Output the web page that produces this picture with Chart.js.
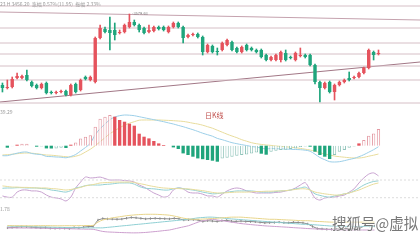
<!DOCTYPE html>
<html>
<head>
<meta charset="utf-8">
<script src="https://cdn.jsdelivr.net/npm/chart.js@4.4.0/dist/chart.umd.min.js"></script>
<style>
  body { margin: 0; background: #fff; width: 420px; height: 240px; overflow: hidden; position: relative;
         font-family: "Noto Sans CJK SC", "DejaVu Sans", sans-serif; }
  .pane { position: absolute; left: 0; width: 420px; }
  .txt { position: absolute; white-space: nowrap; line-height: 1; color: #9a9a9a; }
</style>
</head>
<body>
<div class="pane" style="top:0;height:108px"><canvas id="kline" width="420" height="108"></canvas></div>
<div class="pane" style="top:108px;height:62px"><canvas id="macd" width="420" height="62"></canvas></div>
<div class="pane" style="top:170px;height:35px"><canvas id="kdj" width="420" height="35"></canvas></div>
<div class="pane" style="top:205px;height:35px"><canvas id="band" width="420" height="35"></canvas></div>

<div class="txt" style="left:0;top:1px;font-size:5px">23 H 3456.20 &nbsp;涨幅 0.57%(11.95) &nbsp;振幅 2.33%</div>
<div class="txt" style="left:132px;top:11px;font-size:4px;color:#777">-3579.63</div>
<div class="txt" style="left:205px;top:112px;font-size:7px;color:#c0504d">日K线</div>
<div class="txt" style="left:0;top:109px;font-size:5px">39.29</div>
<div class="txt" style="left:0;top:206px;font-size:5px">1.78</div>
<div class="txt" style="left:332px;top:216px;font-size:14.5px;color:#777;text-shadow:0 0 2px #fff,0 0 2px #fff">搜狐号@虚拟</div>

<script>
// daily candles, oldest first
const slots = 86; // width of the axis in candle slots (empty room on the right)
const opens  = [3359,3350,3353,3380,3380,3389,3368,3359,3350,3365,3338,3335,3338,3341,3329,3362,3344,3383,3374,3368,3500,3527,3524,3524,3515,3518,3533,3548,3539,3530,3518,3521,3533,3533,3518,3533,3545,3533,3503,3509,3512,3503,3458,3476,3461,3464,3479,3488,3470,3458,3479,3470,3464,3464,3449,3434,3434,3434,3455,3443,3434,3446,3449,3449,3419,3368,3350,3368,3338,3359,3368,3380,3380,3383,3395,3410,3458,3452];
const closes = [3350,3353,3377,3386,3386,3374,3356,3350,3362,3335,3335,3338,3341,3329,3359,3338,3374,3377,3383,3500,3530,3518,3515,3509,3518,3539,3548,3539,3524,3515,3524,3533,3527,3524,3533,3545,3533,3500,3509,3512,3503,3458,3479,3458,3458,3485,3494,3464,3458,3473,3464,3464,3458,3443,3434,3443,3449,3458,3434,3440,3455,3449,3443,3419,3368,3350,3365,3338,3359,3368,3374,3374,3383,3395,3410,3464,3449,3455];
const highs  = [3365,3374,3383,3395,3389,3404,3371,3362,3365,3368,3341,3341,3344,3344,3362,3365,3377,3386,3386,3503,3539,3533,3563,3545,3524,3542,3572,3554,3542,3533,3539,3536,3536,3536,3536,3548,3548,3536,3512,3515,3515,3506,3482,3479,3470,3488,3497,3491,3473,3476,3482,3473,3467,3467,3452,3446,3452,3461,3464,3446,3458,3470,3452,3452,3422,3371,3368,3371,3362,3371,3377,3398,3386,3398,3413,3467,3461,3464];
const lows   = [3338,3347,3350,3377,3377,3371,3353,3347,3347,3332,3332,3332,3335,3326,3326,3335,3341,3374,3371,3365,3497,3515,3464,3494,3512,3515,3530,3536,3518,3512,3515,3518,3524,3521,3515,3530,3530,3485,3500,3506,3500,3449,3455,3455,3449,3461,3476,3461,3455,3455,3461,3461,3455,3440,3431,3431,3431,3428,3431,3437,3431,3443,3440,3416,3362,3308,3347,3335,3314,3356,3365,3371,3377,3380,3392,3407,3434,3449];

// drawn support / resistance levels and the two trend lines (start, end)
const levels = [3596, 3530, 3485, 3452, 3416, 3374, 3305];
const trendDown = [3578, 3554];
const trendUp = [3308, 3428];

// MACD
const macdHist = [-1.5,-2,-0.5,1,2,2,-0.7,-1,-0.7,-2.7,-2.8,-2.7,-2,-2.3,1,3.3,7.3,9,10.5,19,27,29,30.7,29,25.7,24,22,20,12,9,7.3,4.7,2.3,0.7,-1.5,-1.7,-3.3,-7.7,-9.3,-11,-12.7,-13.5,-14.3,-15,-16,-12.7,-12,-11,-10,-9.3,-8.7,-7.7,-6.7,-8,-9,-6,-5,-4.3,-4,-3.3,-2.7,-1.3,-0.7,-1,-6,-9.3,-11,-13.3,-9.3,-6,-4.3,-2,-0.7,2.3,5.7,10,12.3,16.7];
const dif = [-10,-10,-8.7,-7.5,-6.5,-6.3,-7.8,-8.5,-9,-10.7,-10.9,-11.3,-11.5,-12.1,-10.8,-8.8,-5.3,-1.8,2.5,11,17,21.7,26,28.7,30,30.7,30.5,30,29,28,27,26,25,24,22.8,21.7,20.3,19,17.5,16,14.3,12.5,11,9.5,7.3,6,4.5,3,2,1,0.2,-0.8,-1.4,-2.4,-3.2,-2.8,-3,-3.2,-3.4,-3.6,-3.8,-4,-4.5,-5.5,-8.5,-11.8,-14,-16,-16.3,-16,-15,-13.8,-12.7,-11,-9,-6.5,-4,-1];
const dea = [-9.3,-9,-8.5,-8,-7.5,-7.3,-7.5,-8,-8.7,-9.3,-9.5,-10,-10.5,-11,-11.3,-10.5,-9,-6.3,-3.5,0,4,8,12,15,18,20.5,22.5,24,25.5,25.7,25.7,25.7,25.7,25.5,25.3,25,24.7,24.3,23.5,22.5,21.7,20.5,19,17.5,15.5,13.5,11.5,9.7,8,6,4.5,3,2,1.3,0.7,0.3,-0.3,-0.7,-1.1,-1.5,-2,-2.7,-3.5,-4.3,-5.5,-7,-8.3,-9.3,-10.3,-11,-11.5,-12,-12.3,-12.3,-11.7,-10.5,-9.5,-8.3];

// KDJ
const kLine = [52,53,53,54,54,53,53,53,51,50,46,44,41,39,44,53,56,61,63,63,63,65,66,68,70,70,70,66,58,53,51,50,48,46,46,50,53,51,48,46,43,39,36,33,34,36,39,41,43,43,43,43,41,39,39,39,41,43,44,46,50,53,56,46,33,28,24,22,26,29,33,36,43,53,63,70,75,77];
const dLine = [60,58,56,56,55,55,54,53,53,53,51,50,48,46,48,51,55,60,63,66,70,71,72,73,73,73,73,72,68,65,61,58,55,53,52,51,51,50,50,48,46,44,41,38,36,36,37,38,39,39,39,40,41,41,42,42,43,43,44,46,48,50,50,46,39,36,33,31,29,29,33,36,41,46,53,60,66,70];
const jLine = [26,22,22,39,46,46,43,43,39,29,22,19,16,9,22,53,73,90,87,88,90,85,80,80,80,78,77,73,63,56,46,36,29,22,26,46,53,50,39,36,36,32,26,26,22,32,43,50,53,50,43,39,36,36,36,36,38,39,43,46,53,63,71,46,19,12,19,21,22,26,29,39,50,70,87,100,104,94];
const kdjLevels = [20, 80];

// bottom indicator and its bands
const bandUp  = [13.2,13.1,13,13,12.9,12.9,13,13,13.1,13,12.9,12.9,13,13,13,13.1,13.2,13.3,13.5,18,21,22.5,24,25,26,27,27.7,28.3,28.7,29,29,29,28.7,28.3,27.7,26.5,25,23.5,22.5,22,22,22.3,22.7,23,23.5,24,24.5,25,25,25,24.5,24,23.5,23,22.5,22,22,21.7,21.3,21,20.7,20.3,20,20,19.5,19,18.7,18.3,18,18,18,18,18,18,18,18,18,18];
const bandMid = [12.5,12.3,12.2,12,11.8,11.7,11.5,11.3,11.2,11,10.8,10.7,10.5,10.4,10.3,10.2,10.1,10,10,10,10,10.7,11.3,12,12.7,13.3,14,14.7,15.3,16,16.7,17.3,18,18.7,19.3,20,20.7,21.3,22,23,24,24.5,25,25,24.5,24,23,22.5,22,21.5,21,20.5,20,19.5,19,18.5,18,17.5,17,16.5,16,15.5,15,15,14.5,14,13.5,13,12.5,12,12,12,12,12,12,12,12,12];
const bandLow = [10,10,9.9,9.8,9.8,9.7,9.6,9.5,9.4,9.3,9.2,9.1,9,8.8,8.6,8.4,8.3,8.1,8,6.5,5,4.3,4,3.7,3.4,3.2,3,3,3.2,3.6,4.2,4.8,5.5,6.3,7,8.5,10,11.5,13,15.5,18,20,21,22,21,20,19,18,17,16,15.3,14.6,14,13.4,12.8,12.4,12,11.6,11.2,10.8,10.3,9.9,9.5,9,8.7,8.4,8.1,7.8,7.5,7.2,7,7,7,7,7,7,7,7];
const indLine = [10,10.5,11,11.5,11.5,11,10.5,10,10.3,9.5,9.3,9.5,9.5,9,10.5,10,11,11.8,12,21,23,22.5,22.3,22,22.3,23.5,24.5,24,23.3,22.5,23,23.3,23,22.8,22.5,23.3,22.7,21,21.3,21.5,21,19,20,19.5,19,20,20.5,19.3,19,19.5,19,18.8,18.5,17.8,17,17.3,17.5,18,17.2,17,17.8,17.5,17,15.5,12,9,8.5,8,8,8.3,8.8,9,9.2,9.6,10,13,12.5,12.7];

const RED = '#e5535d', GREEN = '#1fa57c';
const xs = opens.map((_, i) => i);
const pts = arr => arr.map((v, i) => ({ x: xs[i], y: v }));
const span = (a, b) => [{ x: -0.5, y: a }, { x: slots - 0.5, y: b }];

function line(data, color, extra) {
  return Object.assign({ type: 'line', data, borderColor: color, borderWidth: 1, pointRadius: 0,
    tension: 0.3, fill: false, order: 3 }, extra || {});
}

function opts(min, max) {
  return {
    responsive: false, animation: false, devicePixelRatio: 1,
    layout: { padding: 0 },
    plugins: { legend: { display: false }, tooltip: { enabled: false } },
    scales: {
      x: { type: 'linear', min: -0.5, max: slots - 0.5, offset: false, display: false },
      y: { min, max, display: false }
    }
  };
}

// candles: wick + body as floating bars
const up = i => closes[i] >= opens[i];
const candleColor = c => up(c.dataIndex) ? RED : GREEN;
const klineSets = levels.map(v => line(span(v, v), '#d6bfc6', { tension: 0 }));
klineSets.push(line(span(trendDown[0], trendDown[1]), '#c5a2ae', { tension: 0 }));
klineSets.push(line(span(trendUp[0], trendUp[1]), '#a27786', { tension: 0 }));
klineSets.push({
  type: 'bar', data: xs.map(i => ({ x: i, y: [lows[i], highs[i]] })),
  backgroundColor: candleColor, barThickness: 1, grouped: false, order: 2
});
klineSets.push({
  type: 'bar', data: xs.map(i => ({ x: i, y: [opens[i], closes[i]] })),
  backgroundColor: candleColor, barPercentage: 0.7, categoryPercentage: 1,
  minBarLength: 1, grouped: false, order: 1
});
new Chart(document.getElementById('kline'), { type: 'bar', data: { datasets: klineSets }, options: opts(3290, 3614) });

// MACD histogram: growing bars hollow, shrinking bars filled
const grows = i => i > 0 && Math.abs(macdHist[i]) >= Math.abs(macdHist[i - 1]) && macdHist[i] * macdHist[i - 1] > 0;
new Chart(document.getElementById('macd'), {
  type: 'bar',
  data: { datasets: [
    line(pts(dif), '#9ccfe8'),
    line(pts(dea), '#e8dc9c'),
    {
      type: 'bar', data: pts(macdHist), barPercentage: 0.68, categoryPercentage: 1, order: 1,
      backgroundColor: c => {
        const i = c.dataIndex, v = macdHist[i];
        if (v > 0) return grows(i) ? '#fff' : RED;
        return grows(i) ? GREEN : '#fff';
      },
      borderColor: c => macdHist[c.dataIndex] > 0 ? '#e39aa3' : '#8fc3b9',
      borderWidth: c => {
        const i = c.dataIndex, v = macdHist[i];
        return (v > 0 && grows(i)) || (v < 0 && !grows(i) && i > 0 && macdHist[i - 1] < 0 && Math.abs(v) < Math.abs(macdHist[i - 1])) ? 1 : 0;
      }
    }
  ] },
  options: opts(-24.3, 37.7)
});

// KDJ
const kdjSets = kdjLevels.map(v => line(span(v, v), '#dcdcdc', { tension: 0, borderDash: [2, 2] }));
kdjSets.push(line(pts(dLine), '#e8dc9c'), line(pts(kLine), '#92d0d3'), line(pts(jLine), '#c8a2d0'));
new Chart(document.getElementById('kdj'), { type: 'line', data: { datasets: kdjSets }, options: opts(-4.7, 113.9) });

// bottom indicator with bands
new Chart(document.getElementById('band'), {
  type: 'line',
  data: { datasets: [
    line(pts(bandUp), '#e8d58a'),
    line(pts(bandMid), '#8ecfd3'),
    line(pts(bandLow), '#cc9fce'),
    line(pts(indLine), '#8a8a8a', { tension: 0, pointRadius: 1.2, pointStyle: 'line', rotation: 90,
      pointBorderColor: '#8a8a8a', pointBorderWidth: 1 })
  ] },
  options: opts(0, 35)
});
</script>
</body>
</html>
